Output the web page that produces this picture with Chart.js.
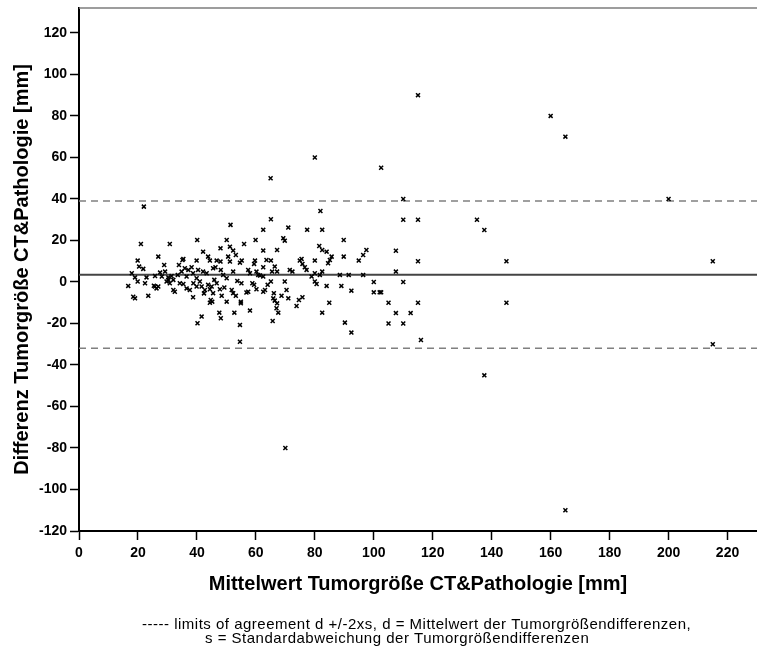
<!DOCTYPE html>
<html>
<head>
<meta charset="utf-8">
<script src="https://cdn.jsdelivr.net/npm/chart.js@4.4.1/dist/chart.umd.min.js"></script>
<style>
  html, body { margin: 0; padding: 0; background: #fff; }
  canvas { display: block; }
</style>
</head>
<body>
<canvas id="chart" width="757" height="653"></canvas>
<script>
// Bland-Altman: mean of CT and pathology tumour size vs. their difference (mm)
const meanSize = [
  // below 40 mm
  22, 21, 30.8, 26.9, 19.9, 20.4, 21.8, 28.9, 35.4, 33.9,
  17.9, 19, 19.9, 16.7, 22.4, 22.9, 25.8, 27.5, 29.2, 30.3,
  31.4, 33.5, 34.8, 35.9, 37.1, 38.2, 38.7, 18.4, 19, 23.5,
  25.8, 26.3, 26.9, 29.7, 30.3, 30.8, 32, 32.5, 34.2, 35.4,
  36.5, 37.6, 38.7, 35.1, 25.4, 32, 36.5, 38.8, 28.1,
  // 40 - 65 mm
  51.4, 40.1, 50.1, 56, 59.9, 62.5, 62.5, 42.1, 48, 51.2,
  52.3, 53.2, 43.8, 44.4, 39.9, 46.7, 48, 50.6, 51.2, 54.6,
  55.2, 59.7, 59.4, 62.5, 40.4, 42.1, 43.3, 45.5, 46.3, 48.1,
  48.9, 50.1, 52.3, 57.4, 58, 60.2, 60.8, 62.5, 39.9, 41,
  41.6, 42.7, 43.8, 45, 45.9, 46.7, 47.8, 48.4, 44.4, 45.5,
  44.7, 44.4, 45.2, 50.1, 51.8, 52.3, 53.2, 54.9, 54.9, 57.4,
  59.4, 60.2, 63.1, 64, 62.5, 47.6, 48.1, 52.7, 58, 41.6,
  40.2, 54.6, 54.6, 39.9, 53.7, 55.1, 58.8, 49.3, 56.8, 63.6,
  42.4, 61.4, 65.5,
  // 65 - 90 mm
  80, 65, 81.9, 65.1, 71, 77.4, 82.5, 69.3, 69.8, 89.8,
  67.2, 81.5, 82.5, 85.7, 85.1, 89.8, 80, 75.5, 74.9, 75.8,
  76.6, 77.2, 65.1, 66.4, 67.2, 72.4, 80, 81.7, 82.5, 88.5,
  65.1, 69.8, 80, 80.6, 84, 89, 66.1, 65.9, 66.4, 67.2,
  67, 67.6, 68.7, 71, 73.8, 74.6, 75.8, 84.9, 82.5, 65.7,
  70, 70.4, 71.5, 78.9, 84, 84.5,
  // 90 mm and above
  97.5, 96.4, 94.9, 91.5, 96.4, 92.4, 90.2, 92.4,
  115, 160, 165, 102.5, 110, 200, 110, 115, 135, 137.5,
  107.5, 115, 145, 215, 107.5, 100, 110, 100, 102, 102.5,
  105, 115, 145, 107.5, 112.5, 105, 110, 116, 137.5, 165, 215
];

const sizeDiff = [
  // below 40 mm
  36.3, 18.3, 18.3, 12.2, 10.3, 7.4, 6.3, 8.2, 11.1, 8.2,
  4.2, 2.2, 0.2, -1.9, -0.6, 2.2, 2.9, 4.5, 5, 2.2,
  2.9, 3.4, 5, 6.6, 5.8, 7.1, 4.2, -7.1, -7.9, -6.7,
  -2.2, -3.1, -2.2, 0.2, 1, -0.6, -3.9, -4.7, -0.6, -1,
  -3.1, -3.9, -7.4, 10.6, -1.8, 1, 2.6, -0.6, 2.6,
  // 40 - 65 mm
  27.5, 20.2, 20.2, 18.3, 20.2, 25.1, 15.1, 14.6, 16.2, 17,
  15.1, 13, 12.2, 10.3, 10.3, 10.3, 9.8, 12.2, 9.8, 9.3,
  10.3, 10.3, 8.7, 7.1, 5.8, 5, 4.2, 6.6, 7.1, 5.8,
  3.4, 1.8, 5, 5.8, 4.2, 5, 3.4, 2.6, 1.8, 0.2,
  -2.2, -3.9, -1.4, -2.2, 1, -0.6, -3.5, -6.7, -3.5, -5.4,
  -8.7, -10, -9.5, -9.5, -3.9, -5.4, -6.7, -9.5, -10.3, -4.7,
  -1.4, -3.5, -3.9, -1.4, -4.7, -14.8, -17.5, -14.8, -13.8, -16.7,
  -19.9, -20.7, -28.8, -2.2, 0.5, -0.6, -0.6, -2.7, -5.1, 10.6,
  -5.5, 3.1, 5,
  // 65 - 90 mm
  60, 50, 34.2, 30.2, 26.2, 25.1, 25.1, 21.1, 19.9, 20.2,
  15.4, 17.3, 15.4, 12.2, 10.6, 12.2, 10.3, 11.1, 10.3, 8.7,
  7.1, 5.8, 10.3, 7.4, 5, 5, 4.2, 3.4, 5, 3.4,
  0.2, 0.2, 0.2, -1, -1.9, -1.9, -5.4, -7.9, -9, -10.3,
  -12.7, -14.8, -6.7, -7.9, -11.6, -8.7, -7.4, -10, -14.8, -18.8,
  -80, -3.9, 5.8, 2.6, 14.6, 9,
  // 90 mm and above
  15.4, 13, 10.3, 3.4, 3.4, -4.2, -19.6, -24.4,
  90, 80, 70, 55, 40, 40, 30, 30, 30, 25,
  15, 10, 10, 10, 5, 0, 0, -5, -5, -5,
  -10, -10, -10, -15, -15, -20, -20, -28, -45, -110, -30
];

// mean difference d and limits of agreement d +/- 2s
const meanDifference = 3.5;
const agreementLimits = [39, -32];

// axis ranges and tick spacing
const xRange = [0, 230];
const yRange = [-120, 132];
const tickStep = 20;

const xTitle = 'Mittelwert Tumorgröße CT&Pathologie [mm]';
const yTitle = 'Differenz Tumorgröße CT&Pathologie [mm]';
const captionLines = [
  '----- limits of agreement d +/-2xs, d = Mittelwert der Tumorgrößendifferenzen,',
  's = Standardabweichung der Tumorgrößendifferenzen'
];

const FONT = '"Liberation Sans", Arial, Helvetica, sans-serif';

const points = meanSize.map((x, i) => ({ x: x, y: sizeDiff[i] }));
const horizontal = (y) => [{ x: xRange[0], y: y }, { x: xRange[1], y: y }];

// keep only the round tick values
const roundTicksOnly = (scale) => {
  scale.ticks = scale.ticks.filter(t => Math.abs(t.value % tickStep) < 1e-9);
};

// thin grey line along the top of the plot area
const topFrame = {
  id: 'topFrame',
  beforeDatasetsDraw(chart) {
    const { ctx, chartArea: a } = chart;
    ctx.save();
    ctx.strokeStyle = '#7d7d7d';
    ctx.lineWidth = 1.5;
    ctx.beginPath();
    ctx.moveTo(a.left, a.top);
    ctx.lineTo(a.right, a.top);
    ctx.stroke();
    ctx.restore();
  }
};

// explanatory note under the x-axis title
const caption = {
  id: 'caption',
  afterDraw(chart) {
    const ctx = chart.ctx;
    ctx.save();
    ctx.fillStyle = '#000';
    ctx.font = '15px "Liberation Sans", Arial, sans-serif';
    if ('letterSpacing' in ctx) ctx.letterSpacing = '0.5px';
    ctx.textAlign = 'left';
    ctx.textBaseline = 'middle';
    ctx.fillText(captionLines[0], 142, 625);
    ctx.fillText(captionLines[1], 205, 639);
    ctx.restore();
  }
};

const axisCommon = {
  type: 'linear',
  ticks: {
    stepSize: tickStep,
    includeBounds: false,
    color: '#000',
    font: { family: FONT, size: 14, weight: 'bold' }
  },
  grid: {
    display: true,
    drawOnChartArea: false,
    drawTicks: true,
    tickLength: 9,
    tickWidth: 1.5,
    tickColor: '#000'
  },
  border: { display: true, color: '#000', width: 2 },
  afterBuildTicks: roundTicksOnly
};

new Chart(document.getElementById('chart'), {
  type: 'scatter',
  data: {
    datasets: [
      {
        label: 'Differenz',
        data: points,
        pointStyle: 'crossRot',
        pointRadius: 2.8,
        pointBorderWidth: 1.5,
        borderColor: '#000',
        backgroundColor: '#000',
        order: 0
      },
      {
        label: 'd',
        data: horizontal(meanDifference),
        showLine: true,
        pointRadius: 0,
        borderColor: '#444',
        borderWidth: 2,
        order: 1
      },
      {
        label: 'd + 2s',
        data: horizontal(agreementLimits[0]),
        showLine: true,
        pointRadius: 0,
        borderColor: '#808080',
        borderWidth: 1.5,
        borderDash: [7, 5],
        order: 2
      },
      {
        label: 'd - 2s',
        data: horizontal(agreementLimits[1]),
        showLine: true,
        pointRadius: 0,
        borderColor: '#808080',
        borderWidth: 1.5,
        borderDash: [7, 5],
        order: 2
      }
    ]
  },
  options: {
    responsive: false,
    devicePixelRatio: 1,
    animation: false,
    events: [],
    layout: { autoPadding: false, padding: { top: 8, right: 0, bottom: 0, left: 0 } },
    plugins: { legend: { display: false }, tooltip: { enabled: false } },
    scales: {
      x: Object.assign({}, axisCommon, {
        position: 'bottom',
        min: xRange[0],
        max: xRange[1],
        ticks: Object.assign({}, axisCommon.ticks, { padding: 5, maxRotation: 0, autoSkip: false }),
        title: {
          display: true,
          text: xTitle,
          color: '#000',
          font: { family: FONT, size: 20, weight: 'bold' },
          padding: { top: 0, bottom: 57 }
        },
        afterFit: (s) => { s.height = 122; s.paddingLeft = 0; s.paddingRight = 0; }
      }),
      y: Object.assign({}, axisCommon, {
        position: 'left',
        min: yRange[0],
        max: yRange[1],
        ticks: Object.assign({}, axisCommon.ticks, { padding: 3, autoSkip: false }),
        title: {
          display: true,
          text: yTitle,
          color: '#000',
          font: { family: FONT, size: 20, weight: 'bold' },
          padding: { top: 10, bottom: 0 }
        },
        afterFit: (s) => { s.width = 79; s.paddingTop = 0; s.paddingBottom = 0; }
      })
    }
  },
  plugins: [topFrame, caption]
});
</script>
</body>
</html>
